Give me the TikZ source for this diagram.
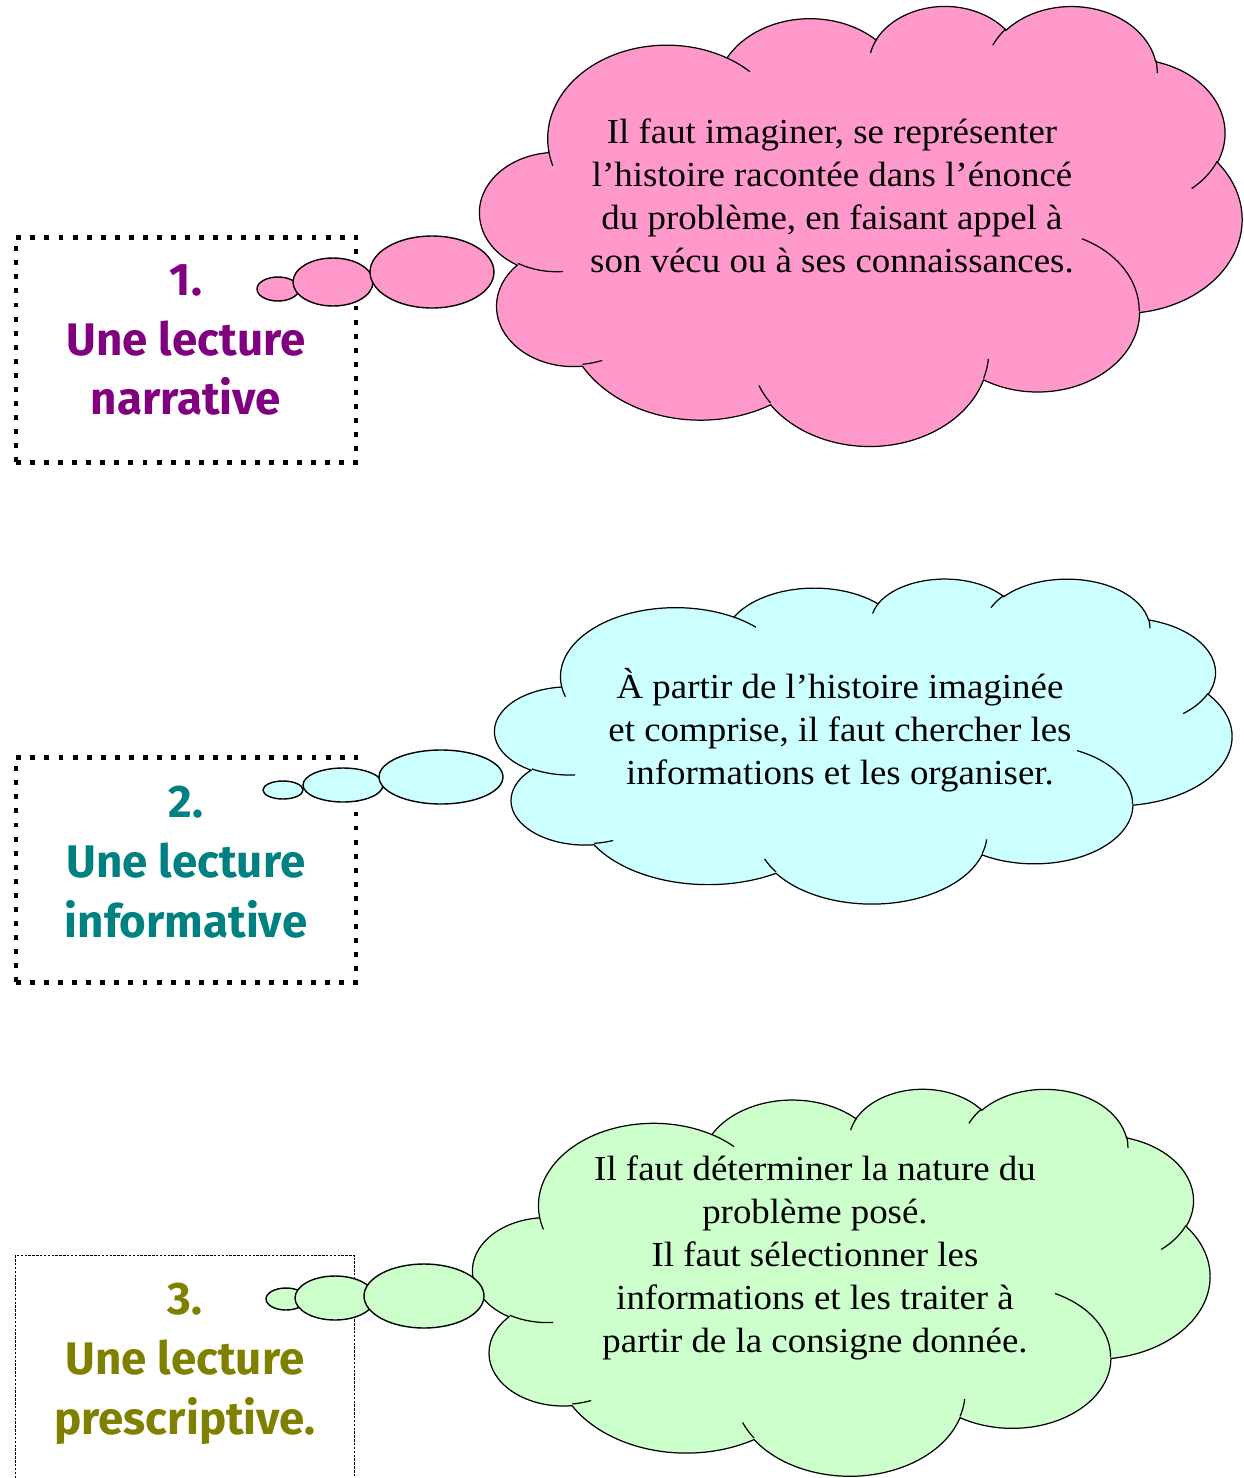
\documentclass[tikz,border=0pt]{standalone}
\usepackage{fontspec}
\setmainfont{Liberation Serif}[FakeStretch=1.05]
\newfontfamily\labelfont{Fira Sans}
\usepackage{tikz}
\usetikzlibrary{shapes.geometric}
\definecolor{pinkcloud}{HTML}{FF99CC}
\definecolor{cyancloud}{HTML}{CCFFFF}
\definecolor{greencloud}{HTML}{CCFFCC}
\definecolor{narrcol}{HTML}{800080}
\definecolor{infocol}{HTML}{008080}
\definecolor{prescol}{HTML}{808000}
\tikzstyle{readbox} = [rectangle, minimum width=6.8cm, minimum height=4.5cm]
\tikzstyle{thickdots} = [draw=black, line width=2.8pt, dash pattern=on 2.8pt off 5.2pt]
\tikzstyle{thindots} = [draw=black, line width=0.6pt, dash pattern=on 1.4pt off 0.8pt]
\tikzstyle{reading} = [align=center, font=\labelfont\bfseries\fontsize{26}{34}\selectfont]
\tikzstyle{bubble} = [ellipse, draw=black, line width=0.8pt, inner sep=0pt]
\tikzstyle{idea} = [align=center, font=\fontsize{20}{24.4}\selectfont]
% one puff of the cloud: radii, start angle and sweep
\newcommand{\puff}[4]{arc[x radius=#1, y radius=#2, start angle={vis(#3,#1,#2)}, end angle={vis(#3+#4,#1,#2)}]}
\newcommand{\thoughtcloud}[2]{
  \begin{scope}[#2]
    \filldraw[fill=#1, line width=0.7pt] (39.00,143.70) \puff{67.53}{91.90}{-190.4875}{123.7805}
      \puff{53.33}{72.67}{-144.1024}{89.9452} \puff{43.65}{59.45}{-145.8079}{99.7230}
      \puff{48.57}{65.95}{-130.9861}{117.2417} \puff{53.33}{72.73}{-78.7089}{109.0269}
      \puff{67.75}{92.20}{-46.2673}{130.2690} \puff{57.85}{78.67}{0.6250}{114.0333}
      \puff{67.52}{92.15}{22.4516}{115.1726} \puff{77.20}{105.43}{66.2426}{75.7110}
      \puff{43.60}{59.18}{-274.9421}{146.7356} \puff{43.45}{59.45}{-246.8285}{152.5189} -- cycle;
    % creases
    \draw[line width=0.7pt] (46.93,261.77) \puff{43.45}{59.45}{86.7420}{26.4295}
      (69.28,348.99) \puff{43.60}{59.18}{73.6105}{11.4475}
      (164.78,390.90) \puff{67.52}{92.15}{137.6242}{14.0811}
      (288.27,347.51) \puff{67.52}{92.15}{6.4533}{15.9984}
      (341.29,229.54) \puff{57.85}{78.67}{-70.2924}{70.9174}
      (417.98,153.54) \puff{53.33}{72.73}{30.3180}{27.7515}
      (383.24,54.26) \puff{48.57}{65.95}{-13.7443}{14.8589}
      (290.78,39.52) \puff{48.57}{65.95}{-149.1815}{18.1954}
      (221.41,47.20) \puff{43.65}{59.45}{-163.4943}{17.6864}
      (140.00,51.92) \puff{67.53}{91.90}{-66.7070}{12.3194}
      (41.27,157.89) \puff{67.53}{91.90}{157.6544}{11.8582};
  \end{scope}}

\begin{document}
\begin{tikzpicture}[x=0.02cm, y=-0.02cm,
  declare function={vis(\a,\rx,\ry)=\a+atan((\rx-\ry)*sin(\a)*cos(\a)/(\ry*cos(\a)^2+\rx*sin(\a)^2));}]
                                \useasboundingbox (0,0) rectangle (1244,1478);
                                % reading boxes
                                \node (b1) [readbox, thickdots] at (186,350) {};
                                \node (b2) [readbox, thickdots] at (186,870) {};
                                \node (b3) [readbox, thindots] at (185,1368) {};
                                \node (n1) [reading, text=narrcol] at (186,340) {1.\\Une lecture\\narrative};
                                \node (n2) [reading, text=infocol] at (186,862) {2.\\Une lecture\\informative};
                                \node (n3) [reading, text=prescol] at (185,1364) {3.\\Une lecture\\prescriptive.};
                                % clouds
                                \thoughtcloud{pinkcloud}{shift={(480,5)}, x=0.035278cm, y=-0.020370cm}
                                \thoughtcloud{cyancloud}{shift={(495,578)}, x=0.034120cm, y=-0.015046cm}
                                \thoughtcloud{greencloud}{shift={(473,1088)}, x=0.034120cm, y=-0.017917cm}
                                \node (t1) [idea] at (832,196) {Il faut imaginer, se représenter\\l’histoire racontée dans l’énoncé\\du problème, en faisant appel à\\son vécu ou à ses connaissances.};
                                \node (t2) [idea] at (840,730) {À partir de l’histoire imaginée\\et comprise, il faut chercher les\\informations et les organiser.};
                                \node (t3) [idea] at (815,1258) {Il faut déterminer la nature du\\problème posé.\\Il faut sélectionner les\\informations et les traiter à\\partir de la consigne donnée.};
                                % bubbles
                                \node (s1) [bubble, fill=pinkcloud, minimum width=0.84cm, minimum height=0.48cm] at (278,289) {};
                                \node (m1) [bubble, fill=pinkcloud, minimum width=1.6cm, minimum height=0.96cm] at (333,282) {};
                                \node (l1) [bubble, fill=pinkcloud, minimum width=2.48cm, minimum height=1.44cm] at (432,272) {};
                                \node (s2) [bubble, fill=cyancloud, minimum width=0.8cm, minimum height=0.36cm] at (283,790) {};
                                \node (m2) [bubble, fill=cyancloud, minimum width=1.6cm, minimum height=0.68cm] at (343,785) {};
                                \node (l2) [bubble, fill=cyancloud, minimum width=2.48cm, minimum height=1.08cm] at (441,777) {};
                                \node (s3) [bubble, fill=greencloud, minimum width=0.8cm, minimum height=0.44cm] at (286,1299) {};
                                \node (m3) [bubble, fill=greencloud, minimum width=1.6cm, minimum height=0.88cm] at (335,1298) {};
                                \node (l3) [bubble, fill=greencloud, minimum width=2.4cm, minimum height=1.28cm] at (424,1296) {};
                            \end{tikzpicture}
\end{document}
